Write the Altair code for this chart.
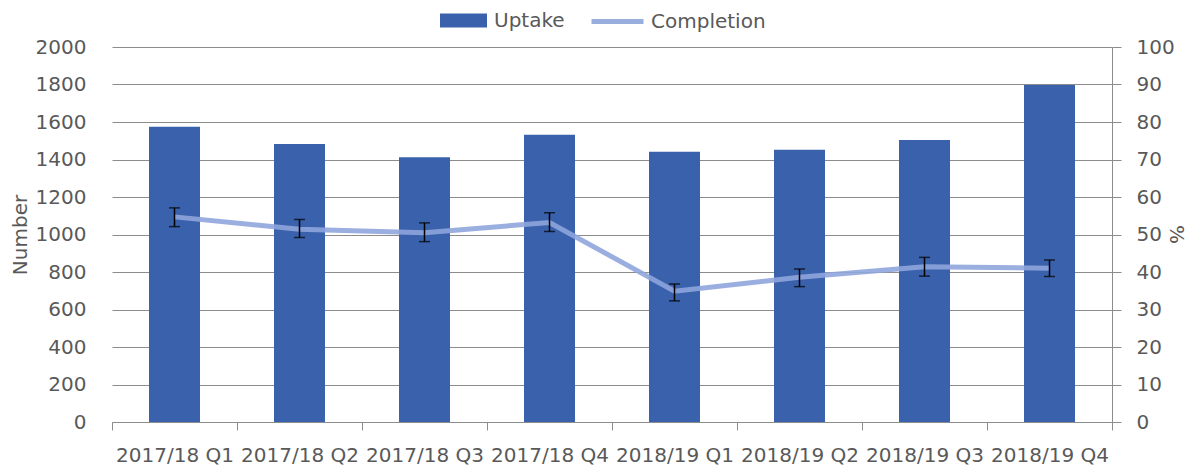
import altair as alt
import pandas as pd

quarters = ["2017/18 Q1", "2017/18 Q2", "2017/18 Q3", "2017/18 Q4",
            "2018/19 Q1", "2018/19 Q2", "2018/19 Q3", "2018/19 Q4"]
uptake = [1575, 1483, 1412, 1532, 1442, 1452, 1504, 1797]
completion = [54.7, 51.4, 50.5, 53.2, 34.9, 38.6, 41.4, 41.0]
completion_low = [52.1, 49.2, 48.1, 50.8, 32.3, 36.1, 38.9, 38.8]
completion_high = [57.1, 54.0, 53.1, 55.8, 36.8, 40.8, 43.9, 43.2]

df = pd.DataFrame({
    "quarter": quarters,
    "uptake": uptake,
    "completion": completion,
    "low": completion_low,
    "high": completion_high,
    "s_bar": ["Uptake"] * len(quarters),
    "s_line": ["Completion"] * len(quarters),
})

FONT = "DejaVu Sans"
TXT = "#595959"
GRID = "#8c8c8c"
BAR = "#3A62AC"
LINE = "#8FA5DB"

xenc = alt.X(
    "quarter:N", sort=quarters,
    scale=alt.Scale(paddingInner=0, paddingOuter=0),
    axis=alt.Axis(title=None, tickBand="extent", labelAngle=0, labelFontSize=20,
                  labelColor=TXT, labelFont=FONT, domainColor=GRID, tickColor=GRID,
                  tickSize=8, labelPadding=15, grid=False, labelLimit=300,
                  labelOverlap=False),
)

bars = alt.Chart(df).mark_bar(width=51, color=BAR).encode(
    x=xenc,
    y=alt.Y("uptake:Q", scale=alt.Scale(domain=[0, 2000], nice=False),
            axis=alt.Axis(title="Number", values=list(range(0, 2001, 200)), format="d",
                          grid=True, gridColor=GRID, gridWidth=1, domain=False, ticks=False,
                          labelPadding=26, labelFontSize=20, labelColor=TXT,
                          labelFont=FONT, titleFont=FONT, titleFontSize=20,
                          titleFontWeight="normal", titleColor=TXT, titlePadding=5)),
    fill=alt.Fill("s_bar:N", scale=alt.Scale(domain=["Uptake"], range=[BAR]),
                  legend=alt.Legend(orient="none", legendX=328, legendY=-50, title=None,
                                    symbolType="M-1,-0.3H1V0.3H-1Z", symbolSize=2209,
                                    symbolStrokeWidth=0, labelFontSize=20, labelFont=FONT,
                                    labelColor=TXT, labelOffset=7)),
)

right_axis = alt.Axis(orient="right", title="%", values=list(range(0, 101, 10)),
                      grid=False, domain=True, domainColor=GRID, ticks=True,
                      tickColor=GRID, tickSize=9, labelPadding=15,
                      labelFontSize=20, labelColor=TXT, labelFont=FONT,
                      titleFont=FONT, titleFontSize=20, titleFontWeight="normal",
                      titleColor=TXT, titleAngle=90, titleX=63, titleY=187,
                      titleAlign="center", titleBaseline="middle")
pct_scale = alt.Scale(domain=[0, 100], nice=False)

line = alt.Chart(df).mark_line(strokeWidth=5, opacity=0.9).encode(
    x=xenc,
    y=alt.Y("completion:Q", scale=pct_scale, axis=right_axis),
    stroke=alt.Stroke("s_line:N", scale=alt.Scale(domain=["Completion"], range=[LINE]),
                      legend=alt.Legend(orient="none", legendX=477, legendY=-54, title=None,
                                        symbolType="stroke", symbolSize=2704,
                                        symbolStrokeWidth=5, labelFontSize=20,
                                        labelFont=FONT, labelColor=TXT, labelOffset=5)),
)

rule = alt.Chart(df).mark_rule(color="black", strokeWidth=1.5).encode(
    x=xenc,
    y=alt.Y("low:Q", scale=pct_scale, axis=right_axis),
    y2="high:Q",
)
cap_lo = alt.Chart(df).mark_tick(color="black", size=11, thickness=1.5).encode(
    x=xenc, y=alt.Y("low:Q", scale=pct_scale, axis=right_axis))
cap_hi = alt.Chart(df).mark_tick(color="black", size=11, thickness=1.5).encode(
    x=xenc, y=alt.Y("high:Q", scale=pct_scale, axis=right_axis))

right = alt.layer(line, rule, cap_lo, cap_hi)

chart = alt.layer(bars, right).resolve_scale(y="independent").properties(
    width=1000, height=375,
    autosize=alt.AutoSizeParams(type="none"),
    padding={"left": 104, "top": 39, "right": 77, "bottom": 45},
).configure_view(stroke=None)

chart.save("out.html", embed_options={"renderer": "svg", "actions": False})
